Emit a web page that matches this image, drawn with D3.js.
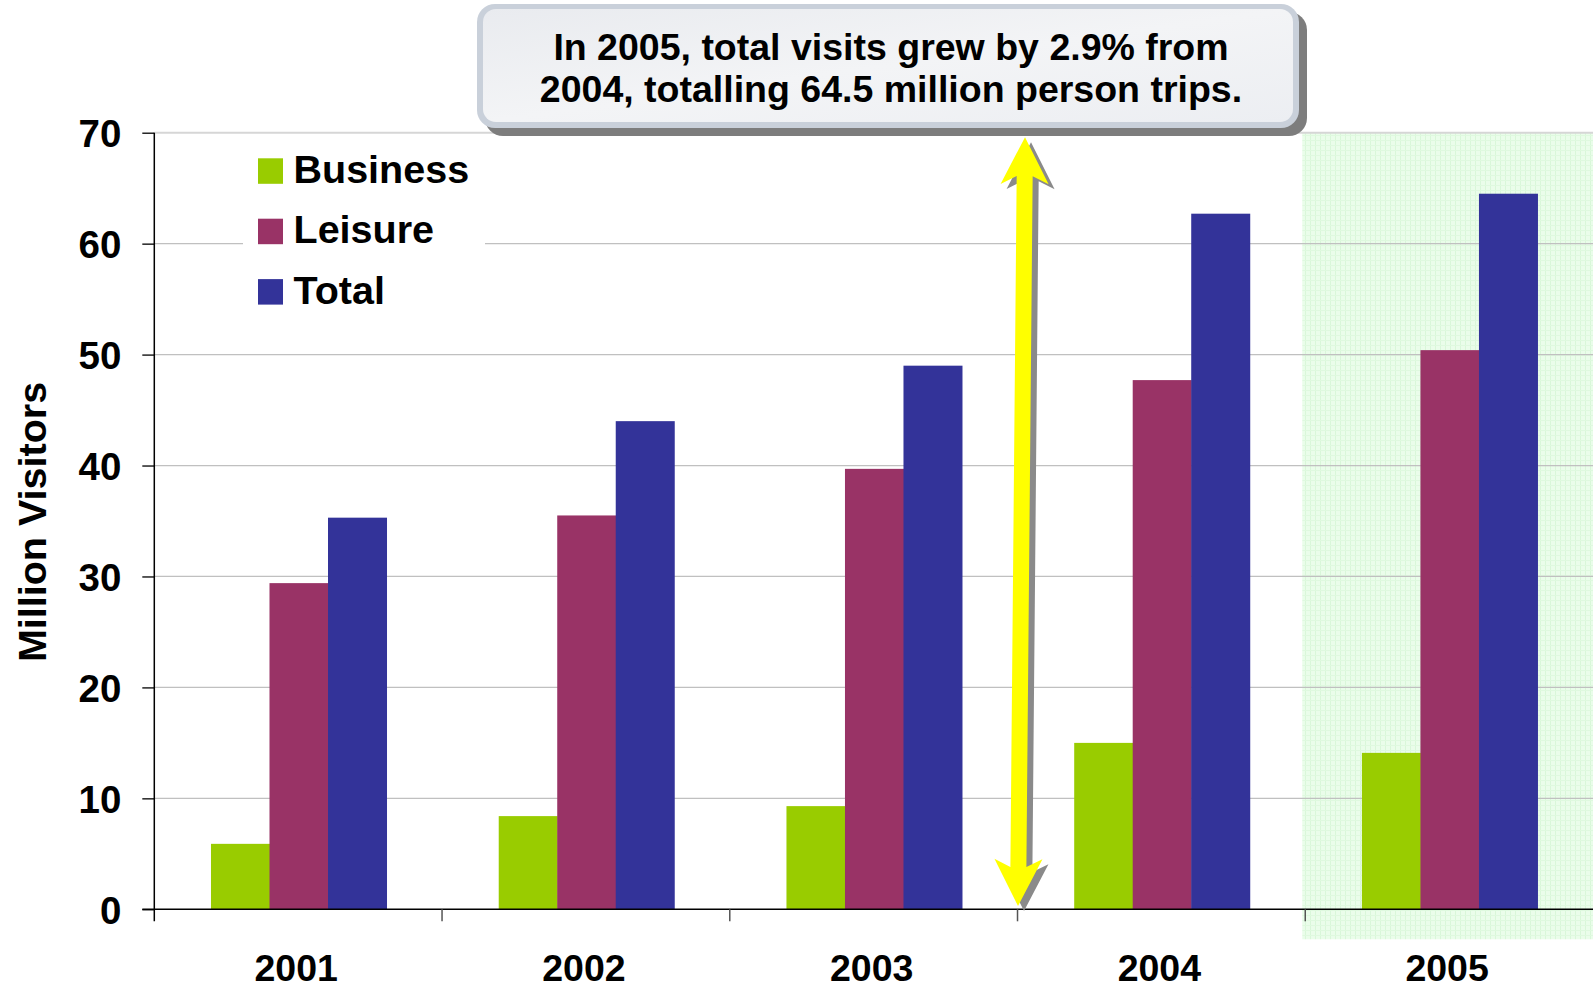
<!DOCTYPE html>
<html>
<head>
<meta charset="utf-8">
<script src="https://cdn.jsdelivr.net/npm/d3@7"></script>
<style>
  html, body { margin: 0; padding: 0; background: #fff; }
  svg { display: block; font-family: "Liberation Sans", Arial, sans-serif; font-weight: bold; }
</style>
</head>
<body>
<div id="chart"></div>
<script>
const years = ["2001", "2002", "2003", "2004", "2005"];
const business = [5.9, 8.4, 9.3, 15.0, 14.1];
const leisure = [29.4, 35.5, 39.7, 47.7, 50.4];
const total = [35.3, 44.0, 49.0, 62.7, 64.5];
const seriesNames = ["Business", "Leisure", "Total"];
const seriesColors = ["#99cc00", "#993366", "#333399"];
const yTicks = [0, 10, 20, 30, 40, 50, 60, 70];
const noteLines = ["In 2005, total visits grew by 2.9% from", "2004, totalling 64.5 million person trips."];
const highlightYear = "2005";
const arrowSpan = [69.6, 0.3];   // arrow tips in axis units

const W = 1593, H = 989;
const margin = {top: 132.7, right: 0, bottom: 79.7, left: 154.3};
const plotBottom = H - margin.bottom;

const svg = d3.select("#chart").append("svg")
    .attr("width", W)
    .attr("height", H);

const x = d3.scaleBand()
    .domain(years)
    .range([margin.left, W])
    .padding(0);

const bw = x.bandwidth();
const xs = d3.scaleBand()
    .domain(seriesNames)
    .range([bw * 0.197, bw * 0.807])
    .padding(0);

const y = d3.scaleLinear()
    .domain([0, 70])
    .range([plotBottom, margin.top]);

// pattern for the highlighted year
const defs = svg.append("defs");
const pat = defs.append("pattern")
    .attr("id", "grn")
    .attr("width", 5)
    .attr("height", 5)
    .attr("patternUnits", "userSpaceOnUse");
pat.append("rect").attr("width", 5).attr("height", 5).attr("fill", "#eafdea");
pat.append("rect").attr("width", 1).attr("height", 5).attr("fill", "#d9f7d9");
pat.append("rect").attr("width", 5).attr("height", 1).attr("fill", "#dff9df");

const grad = defs.append("linearGradient")
    .attr("id", "boxfill")
    .attr("x1", 0).attr("y1", 0).attr("x2", 1).attr("y2", 1);
grad.append("stop").attr("offset", "0%").attr("stop-color", "#e9ebef");
grad.append("stop").attr("offset", "50%").attr("stop-color", "#f3f4f6");
grad.append("stop").attr("offset", "100%").attr("stop-color", "#eceef2");

svg.append("rect")
    .attr("x", x(highlightYear) - 3)
    .attr("y", y(70))
    .attr("width", bw + 3)
    .attr("height", plotBottom - y(70) + 30)
    .attr("fill", "url(#grn)");

// gridlines
svg.append("g")
  .selectAll("line")
  .data(yTicks.filter(d => d > 0))
  .enter().append("line")
    .attr("x1", margin.left)
    .attr("x2", W)
    .attr("y1", d => y(d))
    .attr("y2", d => y(d))
    .attr("stroke", d => d === 70 ? "#d6d6d6" : "#c0c0c0")
    .attr("stroke-width", d => d === 70 ? 2 : 1.2);

// bars
const rows = years.map((yr, i) => ({year: yr, values: [business[i], leisure[i], total[i]]}));
const grp = svg.append("g").selectAll("g")
    .data(rows)
  .enter().append("g")
    .attr("transform", d => `translate(${x(d.year)},0)`);

grp.selectAll("rect")
    .data(d => d.values.map((v, j) => ({name: seriesNames[j], value: v, color: seriesColors[j]})))
  .enter().append("rect")
    .attr("x", d => xs(d.name))
    .attr("width", xs.bandwidth() + 0.5)
    .attr("y", d => y(d.value))
    .attr("height", d => plotBottom - y(d.value))
    .attr("fill", d => d.color);

// y axis
const yAxis = d3.axisLeft(y)
    .tickValues(yTicks)
    .tickSize(12)
    .tickPadding(21);

const gy = svg.append("g")
    .attr("transform", `translate(${margin.left},0)`)
    .call(yAxis);
gy.select(".domain").remove();
gy.selectAll(".tick line").attr("stroke", "#000").attr("stroke-width", 1.3);
gy.selectAll(".tick text")
    .attr("fill", "#000")
    .style("font-size", "38.5px")
    .style("font-weight", "bold")
    .attr("dy", "0.36em");

svg.append("line")
    .attr("x1", margin.left).attr("x2", margin.left)
    .attr("y1", y(70)).attr("y2", plotBottom + 12)
    .attr("stroke", "#000").attr("stroke-width", 1.5);

// x axis
svg.append("line")
    .attr("x1", margin.left - 12).attr("x2", W)
    .attr("y1", plotBottom).attr("y2", plotBottom)
    .attr("stroke", "#000").attr("stroke-width", 1.5);

svg.append("g").selectAll("line")
    .data(years.slice(1))
  .enter().append("line")
    .attr("x1", d => x(d)).attr("x2", d => x(d))
    .attr("y1", plotBottom).attr("y2", plotBottom + 12)
    .attr("stroke", "#555").attr("stroke-width", 1.5);

svg.append("g").selectAll("text")
    .data(years)
  .enter().append("text")
    .attr("x", d => x(d) + bw / 2 - 2)
    .attr("y", plotBottom + 72)
    .attr("text-anchor", "middle")
    .style("font-size", "37.5px")
    .text(d => d);

// y axis title
svg.append("text")
    .attr("transform", `translate(46,${(y(0) + y(70)) / 2 + 1}) rotate(-90)`)
    .attr("text-anchor", "middle")
    .style("font-size", "39.5px")
    .text("Million Visitors");

// legend
const legend = svg.append("g");
legend.append("rect")
    .attr("x", 243).attr("y", 142)
    .attr("width", 242).attr("height", 176)
    .attr("fill", "#fff");
const li = legend.selectAll(".li")
    .data(seriesNames)
  .enter().append("g")
    .attr("class", "li")
    .attr("transform", (d, i) => `translate(258,${158.3 + i * 60.4})`);
li.append("rect")
    .attr("width", 25).attr("height", 25.5)
    .attr("fill", (d, i) => seriesColors[i]);
li.append("text")
    .attr("x", 35.5)
    .attr("y", 24.5)
    .style("font-size", "39.5px")
    .text(d => d);

// annotation arrow
const bx = x("2004");
const tipTop = [bx + 7.5, y(arrowSpan[0])];
const tipBot = [bx + 0.5, y(arrowSpan[1])];
function arrowPath(t, b) {
  const dx = b[0] - t[0], dy = b[1] - t[1];
  const len = Math.hypot(dx, dy);
  const u = [dx / len, dy / len], n = [-u[1], u[0]];
  const hl = 47, hw = 24, sw = 8, notch = 8;
  const p = (o, a, s) => [o[0] + u[0] * a + n[0] * s, o[1] + u[1] * a + n[1] * s];
  const pts = [
    t, p(t, hl, hw), p(t, hl - notch, sw), p(b, -(hl - notch), sw), p(b, -hl, hw), b,
    p(b, -hl, -hw), p(b, -(hl - notch), -sw), p(t, hl - notch, -sw), p(t, hl, -hw)
  ];
  return d3.line()(pts) + "Z";
}
svg.append("path")
    .attr("d", arrowPath(tipTop, tipBot))
    .attr("transform", "translate(6,5)")
    .attr("fill", "#8a8a8a");
svg.append("path")
    .attr("d", arrowPath(tipTop, tipBot))
    .attr("fill", "#ffff00");

// callout box
const box = {x: 477, y: 4, w: 822, h: 124};
svg.append("rect")
    .attr("x", box.x + 8).attr("y", box.y + 8)
    .attr("width", box.w).attr("height", box.h)
    .attr("rx", 18)
    .attr("fill", "#7d7d7d");
svg.append("rect")
    .attr("x", box.x).attr("y", box.y)
    .attr("width", box.w).attr("height", box.h)
    .attr("rx", 18)
    .attr("fill", "#c9d0da");
svg.append("rect")
    .attr("x", box.x + 6).attr("y", box.y + 5)
    .attr("width", box.w - 12).attr("height", box.h - 11)
    .attr("rx", 13)
    .attr("fill", "url(#boxfill)");
svg.append("g").selectAll("text")
    .data(noteLines)
  .enter().append("text")
    .attr("x", 891)
    .attr("y", (d, i) => 60 + i * 41.5)
    .attr("text-anchor", "middle")
    .style("font-size", "37.5px")
    .text(d => d);
</script>
</body>
</html>
